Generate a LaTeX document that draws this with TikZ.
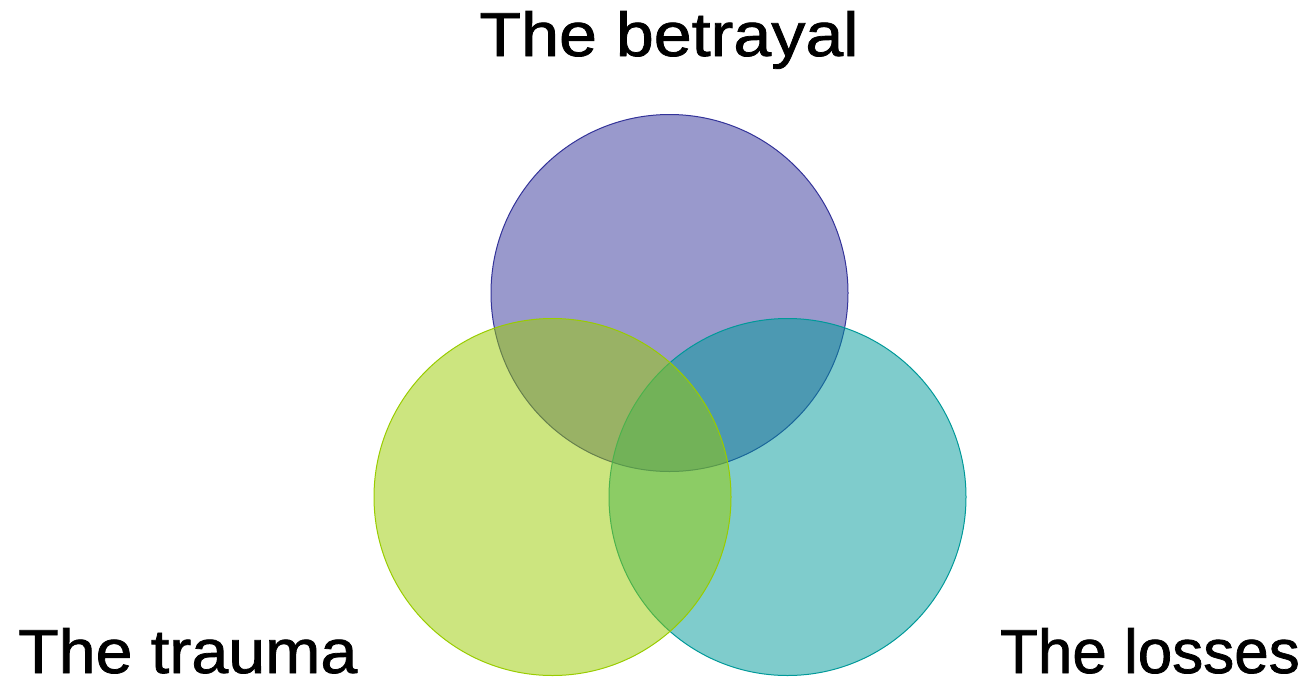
\documentclass[tikz,border=0pt]{standalone}
\usepackage{fontspec}
\setmainfont{Liberation Sans}
\newfontfamily\lblfont{Liberation Sans}[FakeBold=1.2]
\definecolor{topfill}{HTML}{333399}
\definecolor{leftfill}{HTML}{99CC00}
\definecolor{rightfill}{HTML}{009999}
\begin{document}
\begin{tikzpicture}[x=1pt,y=-1pt,
  venn/.style={circle,minimum size=357pt,inner sep=0pt,line width=1pt,fill opacity=0.5},
  lbl/.style={font=\lblfont\fontsize{62}{62}\selectfont,inner sep=0pt,text=black,text depth=0pt}]
\useasboundingbox (0,0) rectangle (1311,680);
\node[venn,draw=topfill,fill=topfill] (top) at (669.5,293) {};
\node[venn,draw=rightfill,fill=rightfill] (right) at (787.5,497) {};
\node[venn,draw=leftfill,fill=leftfill] (left) at (552.5,497) {};
\node[lbl,anchor=base] (tlabel) at (669,56) {\scalebox{1.1}[1]{The betrayal}};
\node[lbl,anchor=base west] (llabel) at (18,673) {\scalebox{1.07}[1]{The trauma}};
\node[lbl,anchor=base east] (rlabel) at (1300,673) {\scalebox{1.0}[1]{The losses}};
\end{tikzpicture}
\end{document}
